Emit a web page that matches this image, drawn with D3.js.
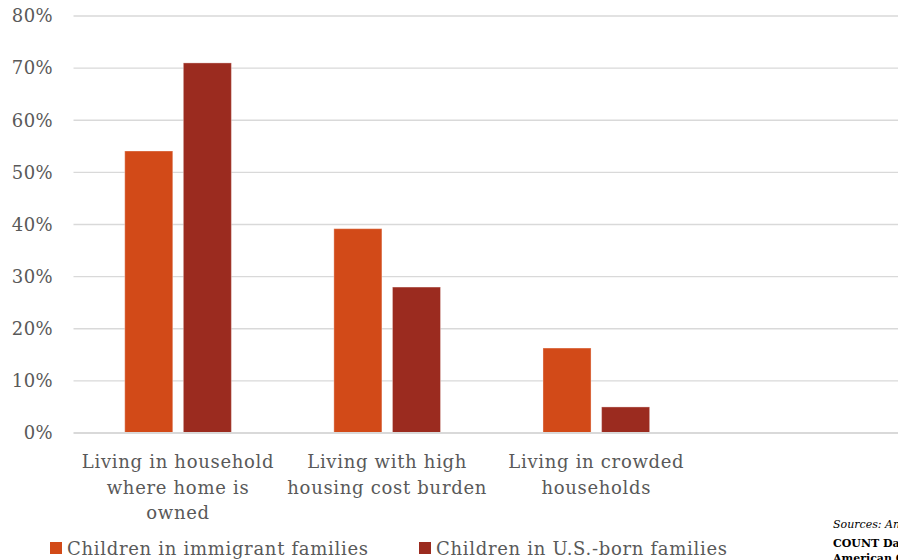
<!DOCTYPE html>
<html>
<head>
<meta charset="utf-8">
<script src="https://cdn.jsdelivr.net/npm/d3@7"></script>
<style>
  body { margin: 0; background: #fff; overflow: hidden; }
  svg { display: block; }
  text { font-family: "DejaVu Serif", serif; fill: #595959; }
</style>
</head>
<body>
<svg id="chart-svg" width="898" height="560"></svg>
<script>
// chart data
const categories = [
    ["Living in household", "where home is", "owned"],
    ["Living with high", "housing cost burden"],
    ["Living in crowded", "households"],
    [""]
];
const seriesNames = ["Children in immigrant families", "Children in U.S.-born families"];
const immigrant = [54.1, 39.2, 16.3, null];
const usBorn = [71.0, 28.0, 5.0, null];
const yTicks = [0, 10, 20, 30, 40, 50, 60, 70, 80];
const colors = ["#d24a18", "#9b2b1f"];

let svg = d3.select('#chart-svg');

let x0 = d3.scaleBand()
    .domain(d3.range(categories.length))
    .range([73.5, 910])
    .paddingInner(0.49)
    .paddingOuter(0.245);

let x1 = d3.scaleBand()
    .domain([0, 1])
    .range([0, x0.bandwidth()])
    .paddingInner(0.18);

let y = d3.scaleLinear().domain([0, 80]).range([433, 16]);

// gridlines
let grid = svg.append('g').attr('class', 'grid');
grid.selectAll('line').data(yTicks.slice(1)).enter().append('line')
    .attr('x1', 73.5).attr('x2', 898)
    .attr('y1', d => y(d)).attr('y2', d => y(d))
    .attr('stroke', '#d9d9d9').attr('stroke-width', 1.3);

// y axis labels
const yAxis = d3.axisLeft(y).tickValues(yTicks).tickFormat(d => d + '%').tickSize(0).tickPadding(0);
let yg = svg.append('g').attr('transform', 'translate(53,0)').call(yAxis);
yg.select('.domain').remove();
yg.selectAll('text').style('font-size', '18px').style('letter-spacing', '0.4px')
    .style('fill', '#595959').style('font-family', '"DejaVu Serif", serif');

// bars
let rows = categories.map((c, i) => ({i: i, vals: [immigrant[i], usBorn[i]]}));
let groups = svg.append('g').selectAll('g').data(rows).enter().append('g')
    .attr('transform', d => 'translate(' + x0(d.i) + ',0)');
groups.selectAll('rect')
    .data(d => d.vals.map((v, k) => ({k: k, v: v})).filter(e => e.v != null))
    .enter().append('rect')
    .attr('x', d => x1(d.k))
    .attr('width', x1.bandwidth())
    .attr('y', d => y(d.v))
    .attr('height', d => y(0) - y(d.v))
    .attr('fill', d => colors[d.k])
    .attr('stroke', '#fff').attr('stroke-opacity', 0.35).attr('stroke-width', 1);

// baseline
svg.append('line')
    .attr('x1', 73.5).attr('x2', 898)
    .attr('y1', y(0)).attr('y2', y(0))
    .attr('stroke', '#d9d9d9').attr('stroke-width', 2);

// category labels
let cl = svg.append('g').selectAll('text').data(categories).enter().append('text')
    .attr('x', (d, i) => x0(i) + x0.bandwidth() / 2)
    .attr('y', 468)
    .attr('text-anchor', 'middle')
    .style('font-size', '18px')
    .style('letter-spacing', '0.7px');
cl.selectAll('tspan').data(d => d).enter().append('tspan')
    .attr('x', function() { return d3.select(this.parentNode).attr('x'); })
    .attr('dy', (d, i) => i == 0 ? 0 : 25.5)
    .text(d => d);

// legend
const legendX = [50, 419];
let lg = svg.append('g').selectAll('g').data(seriesNames).enter().append('g')
    .attr('transform', (d, i) => 'translate(' + legendX[i] + ',542)');
lg.append('rect').attr('width', 12).attr('height', 12).attr('fill', (d, i) => colors[i]);
lg.append('text').attr('x', 17).attr('y', 13).style('font-size', '18px')
    .style('letter-spacing', '0.7px').text(d => d);

// source note (runs off the right edge, as in the original)
let src = svg.append('g').attr('transform', 'translate(833,0)');
src.append('text').attr('y', 528).style('font-size', '11px').style('font-style', 'italic')
    .style('fill', '#000').text('Sources: Annie E. Casey Foundation KIDS');
src.append('text').attr('y', 547).style('font-size', '11px').style('font-weight', 'bold')
    .style('fill', '#000').text('COUNT Data Center; U.S. Census Bureau,');
src.append('text').attr('y', 562).style('font-size', '11px').style('font-weight', 'bold')
    .style('fill', '#000').text('American Community Survey');
</script>
</body>
</html>
